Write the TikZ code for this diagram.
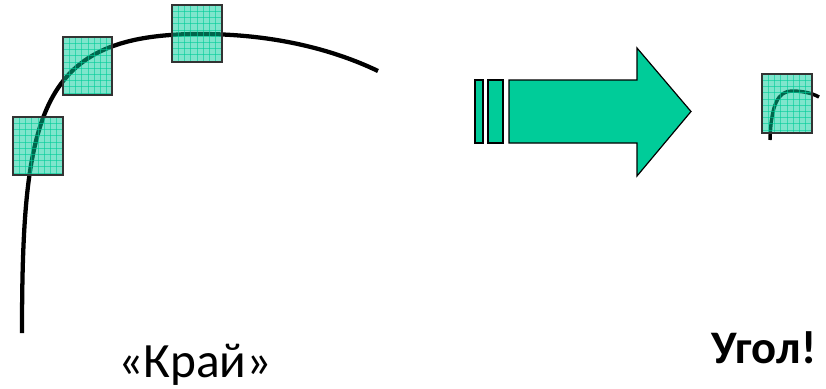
\documentclass[tikz,border=0pt]{standalone}
\usepackage{fontspec}
\setmainfont{Carlito}
\usetikzlibrary{calc}
\definecolor{teal1}{HTML}{00CC99}
\definecolor{sqedge}{HTML}{333333}
\tikzset{
  curveln/.style={line width=3.2pt, black},
  smallcurve/.style={line width=2.6pt, black},
  sqfill/.style={fill=teal1, fill opacity=0.5},
  gridln/.style={draw=teal1, line width=0.45pt, opacity=0.6},
  sqborder/.style={draw=sqedge, line width=1.1pt},
  arrowshape/.style={fill=teal1, draw=black, line width=0.9pt, line join=miter},
  lbl/.style={inner sep=0pt, anchor=base},
}
\newcommand{\gridsq}[4]{%
  \fill[sqfill] (#1,#2) rectangle (#3,#4);
  \begin{scope}
    \clip (#1,#2) rectangle (#3,#4);
    \foreach \k in {6.2,12.4,...,62} {
      \draw[gridln] (#1+\k,#2) -- (#1+\k,#4);
      \draw[gridln] (#1,#2+\k) -- (#3,#2+\k);
    }
  \end{scope}
  \draw[sqborder] (#1,#2) rectangle (#3,#4);
}
\begin{document}
\begin{tikzpicture}[x=0.75pt, y=-0.75pt]
\useasboundingbox (0,0) rectangle (826,389);
% big curve
\draw[curveln] (22,333) .. controls (22,110) and (40,34) .. (200,34)
  .. controls (270,34) and (330,48) .. (378,71);
% squares
\gridsq{13}{117}{63}{175}
\gridsq{63}{37}{112}{95}
\gridsq{172}{5}{222}{62}
% arrow bars and body
\draw[arrowshape] (475,80) rectangle (483,143);
\draw[arrowshape] (488,80) rectangle (503,143);
\draw[arrowshape] (509,80) -- (637,80) -- (637,48) -- (691,111.5) -- (637,176) -- (637,143) -- (509,143) -- cycle;
% small square with curve
\draw[smallcurve] (770,140) .. controls (771,105) and (778,91) .. (792,91)
  .. controls (802,91) and (812,93) .. (819,97);
\gridsq{762}{74}{812}{133}
% labels
\node[lbl, font=\fontsize{37}{44}\selectfont] (kray) at (195,377) {«Край»};
\node[lbl, font=\fontsize{35}{42}\selectfont\bfseries] (ugol) at (764,363) {Угол!};
\end{tikzpicture}
\end{document}
